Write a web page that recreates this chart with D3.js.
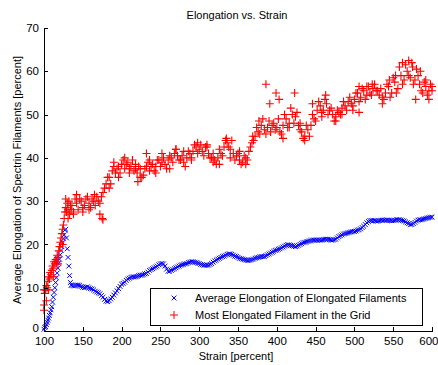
<!DOCTYPE html>
<html>
<head>
<meta charset="utf-8">
<script src="https://cdn.jsdelivr.net/npm/d3@7/dist/d3.min.js"></script>
<style>
  body { margin: 0; background: #fff; }
  svg { font-family: "Liberation Sans", Arial, sans-serif; }
</style>
</head>
<body>
<div class="chart"></div>
<script>
// strain values (percent): fine steps over the steep start, then every 4
let strain = [
  100,101,102,103,104,105,106,107,108,109,110,111,112,113,114,115,116,117,118,119,
  120,121,122,123,124,125,126,127,128,129,130,131,132,133,134,135,
  136,140,144,148,152,156,160,164,168,172,176,180,184,188,192,196,200,204,208,212,
  216,220,224,228,232,236,240,244,248,252,256,260,264,268,272,276,280,284,288,292,
  296,300,304,308,312,316,320,324,328,332,336,340,344,348,352,356,360,364,368,372,
  376,380,384,388,392,396,400,404,408,412,416,420,424,428,432,436,440,444,448,452,
  456,460,464,468,472,476,480,484,488,492,496,500,504,508,512,516,520,524,528,532,
  536,540,544,548,552,556,560,564,568,572,576,580,584,588,592,596,600
];

// average elongation of elongated filaments
let avgElong = [
  0.4,0.8,1.0,1.5,2.0,2.5,3.0,3.6,4.2,4.9,5.6,6.7,7.8,8.9,10.0,11.2,12.3,13.4,14.5,15.6,
  16.6,17.6,18.6,19.5,20.4,21.3,22.2,23.3,23.5,21.5,19.0,17.0,15.0,12.8,11.2,10.6,
  10.5,10.5,10.6,10.3,10.0,10.2,9.8,9.5,9.0,8.6,7.8,6.9,7.0,7.8,8.8,9.8,10.8,11.3,12.0,12.4,
  12.5,12.6,12.9,13.0,13.3,14.0,14.4,14.8,15.3,15.6,15.0,13.8,14.0,14.4,14.8,15.2,15.4,15.6,15.9,16.0,
  15.8,15.6,15.3,15.2,15.2,15.6,16.2,16.6,17.0,17.3,17.7,17.8,17.5,17.2,16.8,16.6,16.4,16.3,16.5,16.8,
  17.0,17.2,17.2,17.6,18.0,18.4,18.7,19.0,19.4,19.8,19.9,19.7,19.5,19.8,20.2,20.5,20.7,20.9,21.0,21.0,
  21.0,21.1,21.2,21.1,21.0,21.2,21.8,22.2,22.5,22.7,22.9,23.0,23.3,23.6,24.2,25.0,25.5,25.5,25.4,25.5,
  25.6,25.6,25.6,25.5,25.6,25.7,25.6,25.4,25.0,24.6,24.8,25.4,25.7,25.8,26.0,26.2,26.3
];

// most elongated filament in the grid
let maxElong = [
  6.0,8.7,9.5,10.5,10.0,11.5,12.5,12.0,13.5,13.0,14.0,15.0,14.5,16.0,15.5,16.5,16.0,17.5,17.0,18.5,
  19.5,20.5,21.5,22.5,23.5,24.5,26.0,27.5,28.5,27.5,29.5,28.0,30.0,27.0,29.0,28.0,
  29.0,30.5,28.0,30.0,29.0,31.0,28.5,30.0,31.0,29.5,32.0,34.0,35.5,37.0,36.5,38.0,38.5,37.5,39.0,38.0,
  37.0,36.5,37.5,36.0,38.0,37.0,38.5,38.0,39.5,39.0,38.5,39.5,40.0,41.0,40.5,39.5,39.0,40.0,41.0,41.5,
  42.5,42.0,41.5,42.5,41.0,40.0,39.5,40.0,41.0,42.5,43.5,42.0,41.0,40.5,39.5,39.0,40.0,41.5,43.5,45.0,
  46.0,47.5,46.5,47.0,46.0,48.0,47.0,46.0,47.5,49.0,48.0,50.0,49.5,47.5,46.0,45.0,46.5,47.5,49.0,51.0,
  52.0,51.0,52.5,51.0,50.0,49.5,50.5,51.5,52.0,53.0,52.5,53.5,55.0,54.0,55.5,54.5,55.0,56.0,55.5,54.5,
  54.0,55.0,56.5,55.0,57.5,56.0,59.0,58.0,60.0,58.5,57.0,60.5,57.0,55.0,56.5,55.5,55.5
];

// in-between samples, strain 138..598 every 4
let strain2 = [
  138,142,146,150,154,158,162,166,170,174,
  178,182,186,190,194,198,202,206,210,214,
  218,222,226,230,234,238,242,246,250,254,
  258,262,266,270,274,278,282,286,290,294,
  298,302,306,310,314,318,322,326,330,334,
  338,342,346,350,354,358,362,366,370,374,
  378,382,386,390,394,398,402,406,410,414,
  418,422,426,430,434,438,442,446,450,454,
  458,462,466,470,474,478,482,486,490,494,
  498,502,506,510,514,518,522,526,530,534,
  538,542,546,550,554,558,562,566,570,574,
  578,582,586,590,594,598
];
let avgElong2 = [
  10.4,10.6,10.5,10.1,10.1,10.0,9.7,9.2,8.8,8.2,
  7.3,6.8,7.4,8.3,9.3,10.3,11.0,11.7,12.2,12.5,
  12.5,12.8,12.9,13.2,13.6,14.2,14.6,15.0,15.5,15.5,
  14.3,13.8,14.2,14.6,15.0,15.3,15.5,15.8,16.0,15.9,
  15.7,15.4,15.2,15.2,15.4,15.9,16.4,16.8,17.2,17.5,
  17.8,17.7,17.3,17.0,16.7,16.5,16.3,16.4,16.6,16.9,
  17.1,17.2,17.4,17.8,18.2,18.6,18.9,19.2,19.6,19.9,
  19.8,19.6,19.6,20.0,20.4,20.6,20.8,21.0,21.0,21.0,
  21.0,21.2,21.2,21.0,21.1,21.5,22.0,22.4,22.6,22.8,
  23.0,23.1,23.4,23.9,24.6,25.3,25.5,25.5,25.4,25.6,
  25.6,25.6,25.5,25.5,25.7,25.7,25.5,25.2,24.8,24.6,
  25.1,25.6,25.7,25.9,26.1,26.3
];
let maxElong2 = [
  27.5,29.5,30.5,28.5,30.5,28.0,30.5,29.0,30.0,31.0,
  33.0,35.5,34.0,38.0,37.5,36.5,39.5,38.5,37.5,39.5,
  37.5,38.0,35.5,37.5,39.0,38.0,37.0,39.5,38.0,40.0,
  37.5,40.5,39.0,42.0,39.5,40.5,38.0,41.5,40.0,43.0,
  41.0,43.0,40.5,42.5,40.0,41.0,38.5,42.0,40.5,44.0,
  42.5,44.0,39.5,41.0,38.5,40.5,39.5,42.5,44.0,47.0,
  45.5,49.0,45.5,48.5,47.5,46.5,49.0,45.5,50.0,47.0,
  51.5,48.0,50.5,46.5,44.5,47.5,45.0,50.0,48.5,53.0,
  50.5,53.5,50.0,51.5,48.5,51.0,50.0,53.0,51.0,54.0,
  52.0,55.0,53.0,56.0,53.5,56.5,54.5,57.0,55.5,56.0,
  53.5,57.0,54.0,58.5,55.0,61.0,57.0,61.5,59.0,62.0,
  58.0,59.0,55.5,57.5,54.5,57.0
];

// scattered extra points of the red series
let maxExtraStrain = [
  100,100,103,106,112,118,124,128,131,138,142,150,158,165,172,175,176,184,190,196,
  204,210,218,221,224,232,236,244,252,262,270,280,290,298,310,318,326,335,340,352,
  360,369,377,386,391,399,403,408,416,423,430,436,446,458,463,476,484,498,506,506,
  516,523,536,545,553,562,570,575,579,585,592,596,600
];
let maxExtraValue = [
  4.8,9.5,7.0,9.5,12.5,15.5,20.0,30.5,26.0,27.0,31.5,27.5,29.5,31.5,27.0,26.0,25.7,33.0,39.0,35.5,
  40.0,36.5,38.5,34.5,35.5,41.0,39.5,36.5,41.0,37.5,42.0,41.5,39.5,43.5,43.0,39.0,38.5,44.5,40.0,41.5,
  38.5,45.0,48.5,57.0,52.5,55.0,53.5,44.5,47.0,55.0,48.0,44.0,52.5,49.5,54.5,48.5,50.0,51.0,56.5,50.5,
  56.5,57.0,52.5,58.0,59.0,62.0,62.5,61.0,53.5,60.0,58.0,53.5,56.5
];

let xTicks = [100, 150, 200, 250, 300, 350, 400, 450, 500, 550, 600];
let yTicks = [0, 10, 20, 30, 40, 50, 60, 70];

let width = 438;
let height = 365;
let margin = { left: 44, right: 6, top: 28, bottom: 34 };

let svg = d3.select('div.chart').append('svg')
  .attr('width', width)
  .attr('height', height);

let x = d3.scaleLinear().domain([100, 600]).range([margin.left, width - margin.right]);
let y = d3.scaleLinear().domain([0, 70]).range([height - margin.bottom, margin.top]);

let blue = '#0000ff';
let red = '#ff0000';

function crossPath(px, py, r) {
  return 'M' + (px - r) + ',' + (py - r) + 'L' + (px + r) + ',' + (py + r) +
    'M' + (px + r) + ',' + (py - r) + 'L' + (px - r) + ',' + (py + r);
}
function plusPath(px, py, r) {
  return 'M' + (px - r) + ',' + py + 'H' + (px + r) +
    'M' + px + ',' + (py - r) + 'V' + (py + r);
}

let avgData = strain.map((s, i) => [s, avgElong[i]])
  .concat(strain2.map((s, i) => [s, avgElong2[i]]));
let maxData = strain.map((s, i) => [s, maxElong[i]])
  .concat(strain2.map((s, i) => [s, maxElong2[i]]))
  .concat(maxExtraStrain.map((s, i) => [s, maxExtraValue[i]]));

let g = svg.append('g').attr('class', 'marks');

g.selectAll('path.avg')
  .data(avgData).enter()
  .append('path')
  .attr('class', 'avg')
  .attr('d', d => crossPath(x(d[0]), y(d[1]), 2.4))
  .attr('fill', 'none')
  .attr('stroke', blue)
  .attr('stroke-width', 1);

g.selectAll('path.max')
  .data(maxData).enter()
  .append('path')
  .attr('class', 'max')
  .attr('d', d => plusPath(x(d[0]), y(d[1]), 4))
  .attr('fill', 'none')
  .attr('stroke', red)
  .attr('stroke-width', 1.1);

// axes, ticks pointing inward, no box
let xAxis = d3.axisBottom(x).tickValues(xTicks).tickSizeInner(-4).tickSizeOuter(0).tickPadding(6);
let yAxis = d3.axisLeft(y).tickValues(yTicks).tickSizeInner(-4).tickSizeOuter(0).tickPadding(5);

let gx = svg.append('g')
  .attr('transform', 'translate(0,' + (height - margin.bottom) + ')')
  .call(xAxis);
let gy = svg.append('g')
  .attr('transform', 'translate(' + margin.left + ',0)')
  .call(yAxis);

[gx, gy].forEach(a => {
  a.selectAll('text').attr('font-size', 11.5).attr('fill', '#000')
    .attr('font-family', '"Liberation Sans", Arial, sans-serif');
  a.selectAll('line, path').attr('stroke', '#000').attr('shape-rendering', 'crispEdges');
});
// keep the last label inside the picture, lift the 0 a little off the 100
gx.selectAll('.tick').filter(d => d == 600).select('text').attr('text-anchor', 'end').attr('dx', 6);
gy.selectAll('.tick').filter(d => d == 0).select('text').attr('dy', '0.05em');

svg.append('text')
  .attr('x', 237)
  .attr('y', 19)
  .attr('text-anchor', 'middle')
  .attr('font-size', 11)
  .text('Elongation vs. Strain');

svg.append('text')
  .attr('x', 236)
  .attr('y', 360)
  .attr('text-anchor', 'middle')
  .attr('font-size', 11)
  .text('Strain [percent]');

svg.append('text')
  .attr('transform', 'translate(21,180) rotate(-90)')
  .attr('text-anchor', 'middle')
  .attr('font-size', 11)
  .text('Average Elongation of Spectrin Filaments [percent]');

// legend
let legend = svg.append('g').attr('class', 'legend');
legend.append('rect')
  .attr('x', 150.5)
  .attr('y', 288.5)
  .attr('width', 272)
  .attr('height', 37)
  .attr('fill', '#fff')
  .attr('stroke', '#000')
  .attr('stroke-width', 1);

let legendItems = [
  { label: 'Average Elongation of Elongated Filaments', color: blue, marker: 'x' },
  { label: 'Most Elongated Filament in the Grid', color: red, marker: '+' }
];
legendItems.forEach((item, i) => {
  let ly = 298 + i * 17;
  legend.append('path')
    .attr('d', item.marker == 'x' ? crossPath(174, ly, 2.4) : plusPath(174, ly, 4))
    .attr('fill', 'none')
    .attr('stroke', item.color);
  legend.append('text')
    .attr('x', 195)
    .attr('y', ly + 4)
    .attr('font-size', 11)
    .text(item.label);
});
</script>
</body>
</html>
